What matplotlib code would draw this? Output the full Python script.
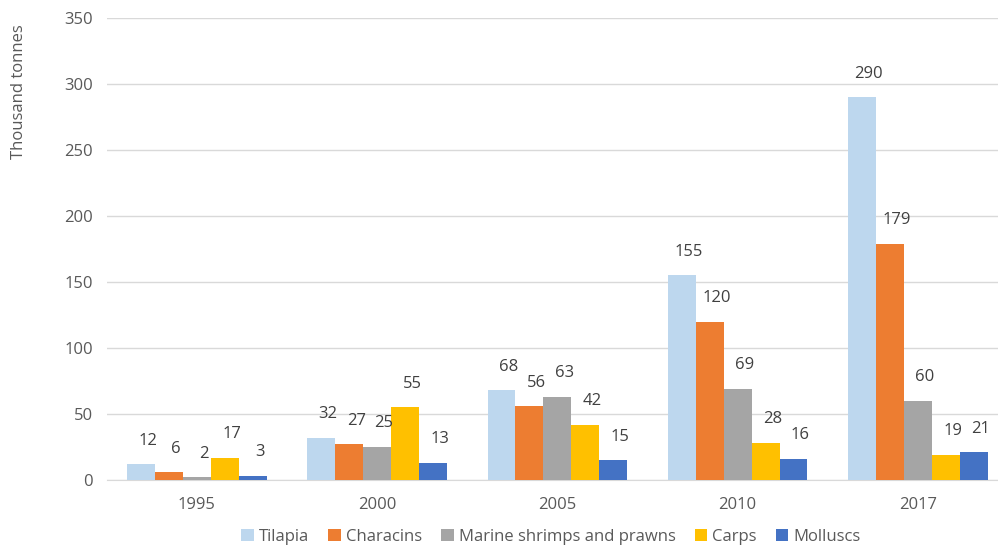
import matplotlib.pyplot as plt
import numpy as np

plt.rcParams['font.family'] = ['Open Sans', 'DejaVu Sans']

years = ['1995', '2000', '2005', '2010', '2017']
series_names = ['Tilapia', 'Characins', 'Marine shrimps and prawns', 'Carps', 'Molluscs']
tilapia = [12, 32, 68, 155, 290]
characins = [6, 27, 56, 120, 179]
shrimps = [2, 25, 63, 69, 60]
carps = [17, 55, 42, 28, 19]
molluscs = [3, 13, 15, 16, 21]
colors = ['#BDD7EE', '#ED7D31', '#A5A5A5', '#FFC000', '#4472C4']

text_col = '#595959'
grid_col = '#D9D9D9'

fig = plt.figure(figsize=(9.98, 5.48), dpi=100)
ax = fig.add_axes([0.107, 0.124, 0.903, 0.843])

x = np.arange(len(years))
bar_w = 0.155
all_series = [tilapia, characins, shrimps, carps, molluscs]
for i, (vals, name, c) in enumerate(zip(all_series, series_names, colors)):
    pos = x + (i - 2) * bar_w
    bars = ax.bar(pos, vals, width=bar_w, color=c, label=name, zorder=3)
    # value labels sit a little above and right of each bar
    for b, v in zip(bars, vals):
        ax.annotate(str(v), (b.get_x() + b.get_width() / 2, v),
                    xytext=(5, 17), textcoords='offset points',
                    ha='center', va='center', fontsize=12, color='#404040',
                    zorder=5)

ax.set_ylim(0, 350)
ax.set_yticks(range(0, 351, 50))
ax.set_xlim(-0.5, len(years) - 0.5)
ax.set_xticks(x)
ax.set_xticklabels(years)
ax.grid(axis='y', color=grid_col, linewidth=1, zorder=0)
for s in ['top', 'right', 'left']:
    ax.spines[s].set_visible(False)
ax.spines['bottom'].set_color(grid_col)
ax.tick_params(axis='both', length=0, labelsize=12, colors=text_col)
ax.tick_params(axis='x', pad=12)
ax.tick_params(axis='y', pad=10)

ax.set_ylabel('Thousand tonnes', fontsize=12, color=text_col)
ax.yaxis.set_label_coords(-0.088, 0.84)

fig.legend(*ax.get_legend_handles_labels(), loc='center',
           bbox_to_anchor=(0.552, 0.02), ncol=5, frameon=False,
           fontsize=12, labelcolor=text_col, handlelength=0.75, handleheight=0.75,
           handletextpad=0.3, columnspacing=1.15, borderpad=0)

fig.savefig('out.png', dpi=100)
